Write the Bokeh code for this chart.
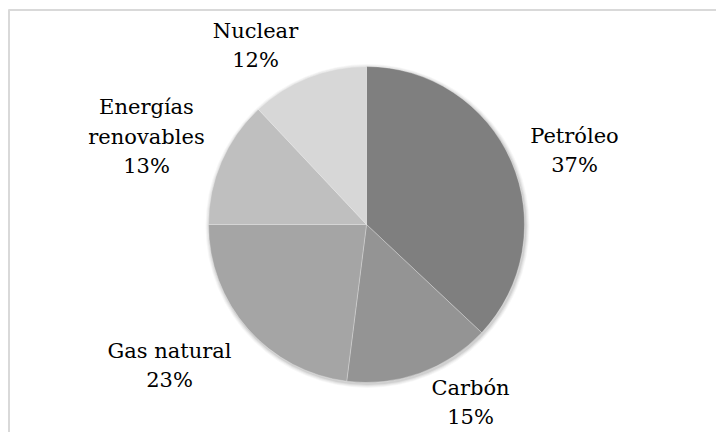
import math
from bokeh.plotting import figure
from bokeh.models import Range1d
from bokeh.core.properties import value
from bokeh.embed import file_html
from bokeh.resources import INLINE

# ---- data ----
categories = ["Petróleo", "Carbón", "Gas natural", "Energías\nrenovables", "Nuclear"]
shares = [37, 15, 23, 13, 12]
pct_labels = ["37%", "15%", "23%", "13%", "12%"]
colors = ["#7f7f7f", "#949494", "#a5a5a5", "#bfbfbf", "#d7d7d7"]

# ---- layout (pixel coordinates, y measured from top) ----
W, H = 716, 432
cx, cy, R = 366, 224, 158
label_pos = [(574, 150), (470, 402), (169, 365), (146, 136), (255, 45)]
line_step = 29.5
FONT = "DejaVu Serif"
FSIZE = "21px"

p = figure(width=W, height=H, output_backend="svg", toolbar_location=None,
           x_range=Range1d(0, W), y_range=Range1d(0, H), min_border=0)
p.axis.visible = False
p.grid.visible = False
p.outline_line_color = None
p.background_fill_color = "white"
p.border_fill_color = "white"

# frame lines (top and left)
p.segment(x0=[8, 8.5], y0=[H - 9.5, H - 9], x1=[W, 8.5], y1=[H - 9.5, 0],
          line_color="#d9d9d9", line_width=2)

# soft shadow
for k, a in [(4, 0.03), (3, 0.04), (2, 0.05), (1, 0.07)]:
    p.circle(x=[cx + 1], y=[H - cy - 1.5], radius=R + k, fill_color="black",
             fill_alpha=a, line_color=None)

total = float(sum(shares))
starts, ends = [], []
cum = 0.0
for s in shares:
    a0 = math.pi / 2 - 2 * math.pi * cum / total
    cum += s
    a1 = math.pi / 2 - 2 * math.pi * cum / total
    starts.append(a0)
    ends.append(a1)

p.wedge(x=[cx] * len(shares), y=[H - cy] * len(shares), radius=R,
        start_angle=starts, end_angle=ends, direction="clock",
        fill_color=colors, line_color="white", line_alpha=0.35, line_width=0.8)

# labels
xs, ys, txt = [], [], []
for cat, pct, (lx, ly) in zip(categories, pct_labels, label_pos):
    lines = cat.split("\n") + [pct]
    n = len(lines)
    for i, t in enumerate(lines):
        xs.append(lx)
        ys.append(H - (ly + (i - (n - 1) / 2) * line_step))
        txt.append(t)

p.text(x=xs, y=ys, text=txt, text_font=value(FONT), text_font_size=FSIZE,
       text_color="black", text_align="center", text_baseline="middle")

open("out.html", "w").write(file_html(p, INLINE))
